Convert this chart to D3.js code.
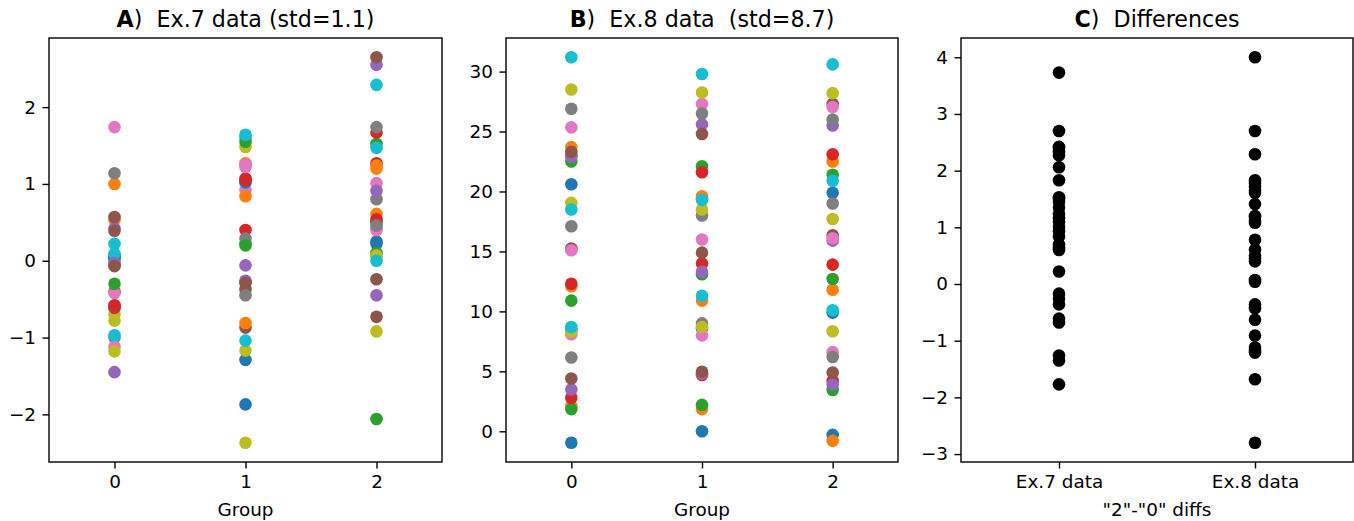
<!DOCTYPE html>
<html>
<head>
<meta charset="utf-8">
<script src="https://cdn.jsdelivr.net/npm/d3@7"></script>
<style>
  html, body { margin: 0; padding: 0; background: #fff; }
  svg text { font-family: "DejaVu Sans", sans-serif; fill: #000; }
</style>
</head>
<body>
<svg id="fig" width="1354" height="521"></svg>
<script>
// Group labels on the x axis of panels A and B
const groups = [0, 1, 2];

// Ex.7 data: one value per subject (30 subjects) for each group
const ex7Group0 = [0.05, 0.53, 0.07, -0.40, 0.42, 0.57, -0.42, 0.05, -0.70, 0.22,
                   0.03, -0.62, -0.30, -0.61, -1.45, 0.39, 1.74, -1.00, -0.78, 0.09,
                   -0.59, 1.00, -0.05, -0.58, -0.03, -0.07, -1.12, 1.14, -1.18, -0.97];
const ex7Group1 = [-1.87, 1.27, 0.22, 1.07, -0.28, -0.87, 0.92, 1.03, 1.48, 1.60,
                   1.02, -0.81, 1.55, 0.40, -0.06, -0.37, 1.25, 0.29, -2.37, 1.64,
                   -1.29, 0.84, 0.20, 1.05, -0.26, -0.29, 1.22, -0.45, -1.17, -1.04];
const ex7Group2 = [0.25, 1.20, 1.52, 1.67, 2.55, -0.24, 1.01, 0.80, 0.05, 1.47,
                   0.22, 0.61, 0.10, 1.27, 0.91, 2.65, 0.40, 1.74, -0.92, 2.29,
                   0.50, 1.24, -2.06, 0.54, -0.45, -0.73, 0.43, 0.46, 0.07, 0.00];

// Ex.8 data: one value per subject (30 subjects) for each group
const ex8Group0 = [20.6, 23.7, 22.5, 23.0, 22.9, 23.3, 25.35, 26.9, 28.5, 31.2,
                   8.5, 12.1, 10.9, 12.3, 15.2, 15.25, 15.1, 17.1, 19.05, 18.5,
                   -0.95, 2.1, 1.85, 2.8, 3.5, 4.4, 8.1, 6.15, 8.3, 8.7];
const ex8Group1 = [19.4, 19.6, 22.1, 21.6, 25.6, 24.8, 27.3, 26.5, 28.25, 29.8,
                   8.6, 10.9, 13.1, 14.0, 13.3, 14.9, 16.0, 18.0, 18.5, 19.3,
                   0.0, 1.85, 2.2, 4.7, 4.8, 4.97, 8.0, 9.0, 8.7, 11.3];
const ex8Group2 = [19.9, 22.5, 21.4, 23.1, 25.5, 27.3, 27.05, 26.0, 28.2, 30.6,
                   9.9, 11.8, 12.7, 13.9, 15.9, 16.35, 16.1, 19.0, 17.7, 20.9,
                   -0.3, -0.8, 3.45, 4.2, 3.9, 4.9, 6.6, 6.2, 8.35, 10.1];

// "2"-"0" differences per subject
const diffLabels = ["Ex.7 data", "Ex.8 data"];
const ex7Diffs = [3.73, 2.70, 2.42, 2.40, 2.33, 2.27, 2.06, 1.83, 1.53, 1.50,
                  1.45, 1.35, 1.24, 1.16, 1.10, 1.01, 0.93, 0.84, 0.70, 0.65,
                  0.60, 0.22, -0.17, -0.26, -0.36, -0.61, -0.68, -1.26, -1.35, -1.77];
const ex8Diffs = [4.00, 2.70, 2.29, 1.83, 1.78, 1.72, 1.65, 1.61, 1.41, 1.20,
                  1.18, 1.12, 1.08, 0.78, 0.61, 0.50, 0.45, 0.40, 0.07, 0.04,
                  -0.36, -0.40, -0.43, -0.63, -0.91, -1.12, -1.18, -1.21, -1.68, -2.80];

// Tick values
const ticksA = [-2, -1, 0, 1, 2];
const ticksB = [0, 5, 10, 15, 20, 25, 30];
const ticksC = [-3, -2, -1, 0, 1, 2, 3, 4];

const palette = d3.schemeCategory10;
const svg = d3.select("#fig");

const TOP = 38, BOTTOM = 462, R = 6.3;
const TICK_FONT = "18.4px", TITLE_FONT = "22.2px";

function panel(opts) {
  const g = svg.append("g");
  const x = d3.scaleLinear().domain(opts.xDomain).range([opts.left, opts.right]);
  const y = d3.scaleLinear().domain(opts.yDomain).range([BOTTOM, TOP]);

  // points
  opts.draw(g, x, y);

  // frame
  g.append("rect")
    .attr("x", opts.left).attr("y", TOP)
    .attr("width", opts.right - opts.left).attr("height", BOTTOM - TOP)
    .attr("fill", "none").attr("stroke", "#000").attr("stroke-width", 1.4);

  // y axis
  const ya = g.append("g").attr("transform", `translate(${opts.left},0)`)
    .call(d3.axisLeft(y).tickValues(opts.yTicks).tickSize(6.5).tickPadding(6.5)
      .tickFormat(d3.format("d")));
  ya.select(".domain").remove();
  ya.selectAll("line").attr("stroke", "#000").attr("stroke-width", 1.4);
  ya.selectAll("text").style("font-size", TICK_FONT).attr("fill", "#000")
    .style("font-family", "DejaVu Sans");

  // x axis
  const xa = g.append("g").attr("transform", `translate(0,${BOTTOM})`)
    .call(d3.axisBottom(x).tickValues(opts.xTicks).tickSize(6.5).tickPadding(6.5)
      .tickFormat(opts.xFormat));
  xa.select(".domain").remove();
  xa.selectAll("line").attr("stroke", "#000").attr("stroke-width", 1.4);
  xa.selectAll("text").style("font-size", TICK_FONT).attr("fill", "#000")
    .style("font-family", "DejaVu Sans");

  // x label
  g.append("text")
    .attr("x", (opts.left + opts.right) / 2).attr("y", 516)
    .attr("text-anchor", "middle").style("font-size", TICK_FONT)
    .text(opts.xLabel);

  // title
  const t = g.append("text")
    .attr("x", (opts.left + opts.right) / 2).attr("y", 26.5)
    .attr("text-anchor", "middle").style("font-size", TITLE_FONT)
    .style("white-space", "pre").attr("xml:space", "preserve");
  t.append("tspan").style("font-weight", "bold").text(opts.letter);
  t.append("tspan").text(opts.title);
}

function groupScatter(data) {
  return (g, x, y) => {
    const n = data[0].length;
    for (let i = 0; i < n; i++) {
      g.selectAll(null)
        .data(groups.map((grp, k) => ({ grp, v: data[k][i] })))
        .join("circle")
        .attr("cx", d => x(d.grp))
        .attr("cy", d => y(d.v))
        .attr("r", R)
        .attr("fill", palette[i % 10]);
    }
  };
}

panel({
  left: 49, right: 442,
  xDomain: [-0.5, 2.5], yDomain: [-2.62, 2.90],
  xTicks: groups, yTicks: ticksA, xFormat: d3.format("d"),
  xLabel: "Group", letter: "A", title: ")  Ex.7 data (std=1.1)",
  draw: groupScatter([ex7Group0, ex7Group1, ex7Group2])
});

panel({
  left: 506, right: 898,
  xDomain: [-0.5, 2.5], yDomain: [-2.56, 32.8],
  xTicks: groups, yTicks: ticksB, xFormat: d3.format("d"),
  xLabel: "Group", letter: "B", title: ")  Ex.8 data  (std=8.7)",
  draw: groupScatter([ex8Group0, ex8Group1, ex8Group2])
});

panel({
  left: 961, right: 1353,
  xDomain: [-0.5, 1.5], yDomain: [-3.14, 4.34],
  xTicks: [0, 1], yTicks: ticksC, xFormat: i => diffLabels[i],
  xLabel: "\"2\"-\"0\" diffs", letter: "C", title: ")  Differences",
  draw: (g, x, y) => {
    [ex7Diffs, ex8Diffs].forEach((arr, k) => {
      g.selectAll(null).data(arr).join("circle")
        .attr("cx", x(k)).attr("cy", d => y(d))
        .attr("r", R).attr("fill", "#000");
    });
  }
});
</script>
</body>
</html>
